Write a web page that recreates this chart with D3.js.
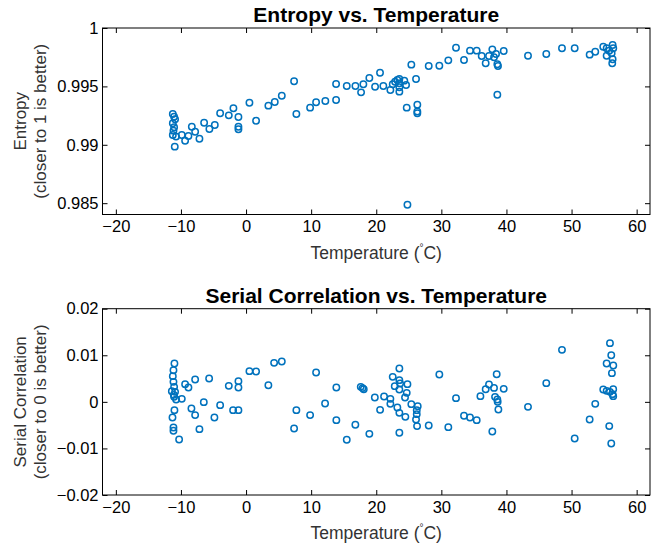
<!DOCTYPE html>
<html>
<head>
<meta charset="utf-8">
<script src="https://cdn.jsdelivr.net/npm/d3@7"></script>
<style>
  body { margin: 0; background: #fff; }
  svg { font-family: "Liberation Sans", Arial, sans-serif; }
</style>
</head>
<body>
<div id="chart"></div>
<script>
// entropy points (temperature in C, entropy)
const entropyTemp = [
  -11.25, -11.05, -10.9, -11.25, -11.05, -11.15, -11.25, -10.75, -9.87, -10.95,
  -9.36, -8.85, -8.33, -7.82, -7.16, -6.44, -5.63, -4.8, -3.98, -2.65,
  -1.94, -1.17, -1.17, -1.17, 0.52, 1.54, 3.43, 4.41, 5.49, 7.38,
  7.73, 9.84, 10.76, 12.18, 13.83, 13.83, 15.47, 16.8, 17.67, 18.02,
  18.94, 19.82, 20.58, 21.09, 22.17, 22.53, 22.89, 23.24, 23.55, 23.55,
  23.55, 23.55, 24.31, 24.58, 24.68, 25.39, 26.11, 26.31, 26.31, 26.31,
  24.79, 28.06, 29.69, 31.07, 32.25, 33.48, 34.4, 35.43, 36.2, 36.81,
  37.32, 37.83, 38.09, 38.4, 38.6, 38.7, 38.6, 39.58, 43.31, 46.12,
  48.53, 50.48, 52.78, 53.64, 54.87, 55.39, 55.39, 55.79, 56.16, 56.31,
  56.41, 56.31, 56.25
];
const entropyVal = [
  0.99264, 0.99241, 0.99218, 0.99184, 0.9915, 0.99121, 0.99084, 0.9907, 0.99084, 0.98984,
  0.99035, 0.99075, 0.99155, 0.99112, 0.99052, 0.99189, 0.99135, 0.9917, 0.9927, 0.99252,
  0.99313, 0.99238, 0.99155, 0.99133, 0.9936, 0.99206, 0.99335, 0.99366, 0.9942, 0.99544,
  0.99264, 0.99318, 0.99364, 0.99375, 0.99384, 0.99521, 0.99503, 0.99503, 0.99449, 0.99518,
  0.99572, 0.99497, 0.99617, 0.99503, 0.99469, 0.99518, 0.9954, 0.99555, 0.99563, 0.99526,
  0.99492, 0.99455, 0.99549, 0.99512, 0.99318, 0.99686, 0.99563, 0.99343, 0.99285, 0.9927,
  0.98487, 0.99675, 0.99677, 0.99723, 0.99831, 0.99726, 0.99806, 0.99806, 0.9976, 0.99698,
  0.9976, 0.99817, 0.99749, 0.99777, 0.99689, 0.99675, 0.99429, 0.99803, 0.99763, 0.99777,
  0.99826, 0.99826, 0.99772, 0.99797, 0.9984, 0.99826, 0.99763, 0.99806, 0.99783, 0.99854,
  0.99826, 0.99732, 0.99698
];

// serial correlation points
const serialTemp = [
  -11.0, -11.15, -11.25, -11.15, -11.05, -11.4, -10.9, -11.05, -10.74, -11.1,
  -9.87, -9.36, -8.85, -7.82, -5.67, -11.0, -11.3, -11.15, -11.15, -10.28,
  -8.39, -7.82, -7.16, -6.49, -4.86, -3.98, -2.65, -1.99, -1.17, -1.17,
  -1.17, 0.52, 1.54, 3.43, 4.31, 5.49, 7.38, 7.73, 9.84, 10.76,
  12.14, 13.87, 13.87, 15.47, 16.79, 17.62, 17.9, 18.08, 18.94, 19.78,
  20.59, 21.2, 22.17, 22.17, 22.53, 22.84, 23.24, 23.55, 23.55, 23.66,
  23.55, 23.55, 23.55, 24.79, 24.68, 24.42, 24.47, 25.39, 26.37, 26.22,
  26.22, 26.11, 26.27, 28.06, 29.69, 31.07, 32.25, 33.48, 34.4, 35.43,
  36.0, 36.81, 37.32, 37.83, 38.09, 38.5, 38.25, 38.6, 38.65, 38.76,
  39.58, 43.31, 46.12, 48.53, 50.48, 52.78, 53.64, 54.87, 55.39, 55.39,
  55.79, 55.9, 56.1, 56.41, 56.2, 56.1, 55.9, 56.4, 56.3, 56.4
];
const serialVal = [
  0.00824, 0.0068, 0.00552, 0.00429, 0.00322, 0.0023, 0.00215, 0.00107, 0.0005, 0.0015,
  0.00064, 0.0038, 0.00309, 0.0048, 0.00502, -0.00178, -0.00335, -0.0055, -0.00622, -0.00807,
  -0.00142, -0.00285, -0.00586, -0.00006, -0.00335, -0.00071, 0.00343, -0.00178, -0.00178, 0.00444,
  0.00309, 0.00659, 0.00652, 0.00358, 0.00837, 0.00867, -0.00571, -0.00178, -0.00285, 0.0063,
  -0.00035, 0.00309, -0.00393, -0.00815, -0.00493, 0.00322, 0.00295, 0.00272, -0.00687, 0.00094,
  -0.00172, 0.00116, 0.00064, -0.00043, 0.00537, 0.00337, -0.0012, 0.00717, 0.00466, 0.00395,
  0.00266, -0.00236, -0.00665, 0.0038, 0.00193, 0.00094, -0.00322, -0.00049, -0.00092, -0.00178,
  -0.00264, -0.00378, -0.00521, -0.00507, 0.00588, -0.00543, 0.00079, -0.003, -0.00335, -0.00393,
  0.00122, 0.00272, 0.00373, -0.00636, 0.003, 0.00594, 0.00107, 0.00051, 0, -0.00163,
  0.00279, -0.00107, 0.00401, 0.01116, -0.00786, -0.00378, -0.00043, 0.00266, 0.00236, 0.00824,
  -0.00521, 0.0126, 0.01002, 0.00781, 0.00616, -0.00893, 0.00215, 0.00272, 0.00165, 0.00122
];

const xTicks = [-20, -10, 0, 10, 20, 30, 40, 50, 60];
const entropyTicks = [0.985, 0.99, 0.995, 1];
const serialTicks = [-0.02, -0.01, 0, 0.01, 0.02];

const width = 663, height = 548;
const blue = '#0072BD';

const svg = d3.select('#chart')
  .append('svg')
  .attr('width', width)
  .attr('height', height);

const x = d3.scaleLinear().domain([-22.05, 62.05]).range([102.5, 650]);

function drawPanel ({ top, bottom, yDomain, yTicks, yFormat, xs, ys, title, yLabel }) {
  const y = d3.scaleLinear().domain(yDomain).range([bottom, top]);
  const g = svg.append('g');
  const fmtMinus = s => s.replace('-', '\u2212');

  // box
  g.append('rect')
    .attr('x', x.range()[0]).attr('y', top)
    .attr('width', x.range()[1] - x.range()[0])
    .attr('height', bottom - top)
    .attr('fill', 'none')
    .attr('stroke', '#000')
    .attr('stroke-width', 1);

  // axes, ticks pointing inward
  g.append('g')
    .attr('transform', `translate(0,${bottom})`)
    .call(d3.axisBottom(x).tickValues(xTicks).tickSizeInner(-5).tickSizeOuter(0).tickPadding(6).tickFormat(d => fmtMinus(String(d))))
    .call(a => a.select('.domain').remove())
    .call(a => a.selectAll('text').attr('font-size', 16.5).attr('fill', '#000'));

  g.append('g')
    .attr('transform', `translate(0,${top})`)
    .call(d3.axisTop(x).tickValues(xTicks).tickSizeInner(-5).tickSizeOuter(0).tickFormat(''))
    .call(a => a.select('.domain').remove());

  g.append('g')
    .attr('transform', `translate(${x.range()[0]},0)`)
    .call(d3.axisLeft(y).tickValues(yTicks).tickSizeInner(-5).tickSizeOuter(0).tickPadding(4).tickFormat(d => fmtMinus(yFormat(d))))
    .call(a => a.select('.domain').remove())
    .call(a => a.selectAll('text').attr('font-size', 16.5).attr('fill', '#000'));

  g.append('g')
    .attr('transform', `translate(${x.range()[1]},0)`)
    .call(d3.axisRight(y).tickValues(yTicks).tickSizeInner(-5).tickSizeOuter(0).tickFormat(''))
    .call(a => a.select('.domain').remove());

  // points
  g.append('g')
    .selectAll('circle')
    .data(xs.map((t, i) => [t, ys[i]]))
    .join('circle')
    .attr('cx', d => x(d[0]))
    .attr('cy', d => y(d[1]))
    .attr('r', 3.2)
    .attr('fill', 'none')
    .attr('stroke', blue)
    .attr('stroke-width', 1.5);

  // title
  g.append('text')
    .attr('x', (x.range()[0] + x.range()[1]) / 2)
    .attr('y', top - 6)
    .attr('text-anchor', 'middle')
    .attr('font-size', 21)
    .attr('font-weight', 'bold')
    .text(title);

  // x label
  const xl = g.append('text')
    .attr('x', (x.range()[0] + x.range()[1]) / 2)
    .attr('y', bottom + 44)
    .attr('text-anchor', 'middle')
    .attr('font-size', 17.5)
    .attr('fill', '#333');
  xl.append('tspan').text('Temperature (');
  xl.append('tspan').attr('font-size', 10).attr('dy', -8).text('\u00b0');
  xl.append('tspan').attr('dy', 8).text('C)');

  // y label, two lines
  const cy = (top + bottom) / 2;
  const yl = g.append('text')
    .attr('transform', `translate(26,${cy}) rotate(-90)`)
    .attr('text-anchor', 'middle')
    .attr('font-size', 17)
    .attr('fill', '#333');
  yl.append('tspan').attr('x', 0).attr('dy', 0).text(yLabel[0]);
  yl.append('tspan').attr('x', 0).attr('dy', 20).text(yLabel[1]);
}

drawPanel({
  top: 28,
  bottom: 214.5,
  yDomain: [0.98403, 1],
  yTicks: entropyTicks,
  yFormat: d => d === 1 ? '1' : String(d),
  xs: entropyTemp,
  ys: entropyVal,
  title: 'Entropy vs. Temperature',
  yLabel: ['Entropy', '(closer to 1 is better)']
});

drawPanel({
  top: 308.7,
  bottom: 495,
  yDomain: [-0.02, 0.02],
  yTicks: serialTicks,
  yFormat: d => d === 0 ? '0' : d3.format('.2f')(d),
  xs: serialTemp,
  ys: serialVal,
  title: 'Serial Correlation vs. Temperature',
  yLabel: ['Serial Correlation', '(closer to 0 is better)']
});
</script>
</body>
</html>
